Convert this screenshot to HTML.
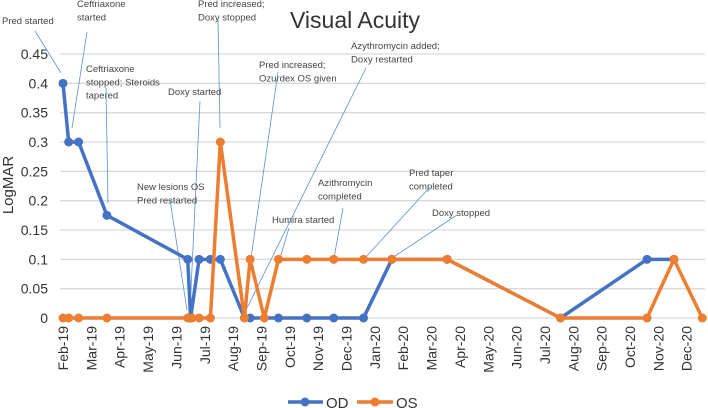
<!DOCTYPE html>
<html><head><meta charset="utf-8"><style>
body{margin:0;background:#fff;}
svg{display:block;font-family:"Liberation Sans",sans-serif;}
</style></head><body>
<svg id="chart" width="708" height="408">
<text x="355" y="28" font-size="23" fill="#333" text-anchor="middle">Visual Acuity</text>
<text transform="translate(13,185) rotate(-90)" font-size="15" fill="#333" text-anchor="middle">LogMAR</text>
<g id="grid"></g><g id="ann"></g><g id="series"></g>
<g>
<g><line x1="288" y1="402" x2="323" y2="402" stroke="#4472c4" stroke-width="3.5"/><circle cx="305" cy="402" r="4.5" fill="#4472c4"/><text x="326" y="408" font-size="15" fill="#333">OD</text></g>
<g><line x1="357" y1="402" x2="393" y2="402" stroke="#ed7d31" stroke-width="3.5"/><circle cx="375" cy="402" r="4.5" fill="#ed7d31"/><text x="396" y="408" font-size="15" fill="#333">OS</text></g>
</g>
</svg>
<script>
const monthLabels=["Feb-19","Mar-19","Apr-19","May-19","Jun-19","Jul-19","Aug-19","Sep-19","Oct-19","Nov-19","Dec-19","Jan-20","Feb-20","Mar-20","Apr-20","May-20","Jun-20","Jul-20","Aug-20","Sep-20","Oct-20","Nov-20","Dec-20"];
const yTicks=[0,0.05,0.1,0.15,0.2,0.25,0.3,0.35,0.4,0.45];
const odMonths=[0,0.2,0.55,1.55,4.4,4.5,4.8,5.2,5.55,6.4,6.6,7.6,8.6,9.55,10.6,11.6,13.55,17.55,20.6,21.55];
const odValues=[0.4,0.3,0.3,0.175,0.1,0,0.1,0.1,0.1,0,0,0,0,0,0,0.1,0.1,0,0.1,0.1];
const osMonths=[0,0.2,0.55,1.55,4.4,4.55,4.8,5.2,5.55,6.4,6.6,7.1,7.6,8.6,9.55,10.6,11.6,13.55,17.55,20.6,21.55,22.55];
const osValues=[0,0,0,0,0,0,0,0,0.3,0,0.1,0,0.1,0.1,0.1,0.1,0.1,0.1,0,0,0.1,0];
const NS="http://www.w3.org/2000/svg";
const X=m=>63+m*28.35, Y=v=>318-v*(264/0.45);
function mk(tag,attrs,parent){const e=document.createElementNS(NS,tag);for(const k in attrs)e.setAttribute(k,attrs[k]);parent.appendChild(e);return e;}
const grid=document.getElementById('grid');
yTicks.forEach(v=>{
 const l=mk('line',{x1:60,x2:705,y1:Y(v),y2:Y(v),stroke:'#d9d9d9','stroke-width':1.3},grid);
 
 
 const t=mk('text',{x:48,y:Y(v)+5,'font-size':14,fill:'#333','text-anchor':'end'},grid);
 t.textContent=String(v);
 
 
});
monthLabels.forEach((s,i)=>{
 const t=mk('text',{transform:`translate(${X(i)+5},326) rotate(-90)`,'font-size':14,fill:'#333','text-anchor':'end'},grid);
 t.textContent=s;
 
 
});
const anns=[
 [["Pred started"],2,24,[35,31,61,73]],
 [["Ceftriaxone","started"],77,7,[87,32,72,128]],
 [["Ceftriaxone","stopped; Steroids","tapered"],86,72,[106,88,108,203]],
 [["Pred increased;","Doxy stopped"],198,7,[218,20,220,128]],
 [["Doxy started"],168,95,[200,101,190,310]],
 [["New lesions OS","Pred restarted"],137,190,[170,200,187,310]],
 [["Pred increased;","Ozurdex OS given"],259,68,[278,72,251,258]],
 [["Azythromycin  added;","Doxy restarted"],351,49,[366,68,245,312]],
 [["Humira started"],272,223,[289,228,280,258]],
 [["Azithromycin","completed"],318,186,[343,208,334,258]],
 [["Pred taper","completed"],409,176,[430,187,365,258]],
 [["Doxy stopped"],432,216,[457,215,392,258]]
];
const ann=document.getElementById('ann');
anns.forEach(a=>{
 const g=mk('g',{},ann);
 
 
 a[0].forEach((s,i)=>{const t=mk('text',{x:a[1],y:a[2]+i*13.3,'font-size':9.5,fill:'#444'},g);t.textContent=s;});
 const p=a[3];mk('line',{x1:p[0],y1:p[1],x2:p[2],y2:p[3],stroke:'#5b8fd6','stroke-width':0.8},g);
});
const ser=document.getElementById('series');
function draw(ms,vs,color,name){
 const g=mk('g',{},ser);
 
 
 mk('polyline',{points:ms.map((m,i)=>X(m)+','+Y(vs[i])).join(' '),fill:'none',stroke:color,'stroke-width':3.5,'stroke-linejoin':'round'},g);
 ms.forEach((m,i)=>{const c=mk('circle',{cx:X(m),cy:Y(vs[i]),r:4.5,fill:color},g);
  
  });
}
draw(odMonths,odValues,'#4472c4','series-od');
draw(osMonths,osValues,'#ed7d31','series-os');
</script>
</body></html>
